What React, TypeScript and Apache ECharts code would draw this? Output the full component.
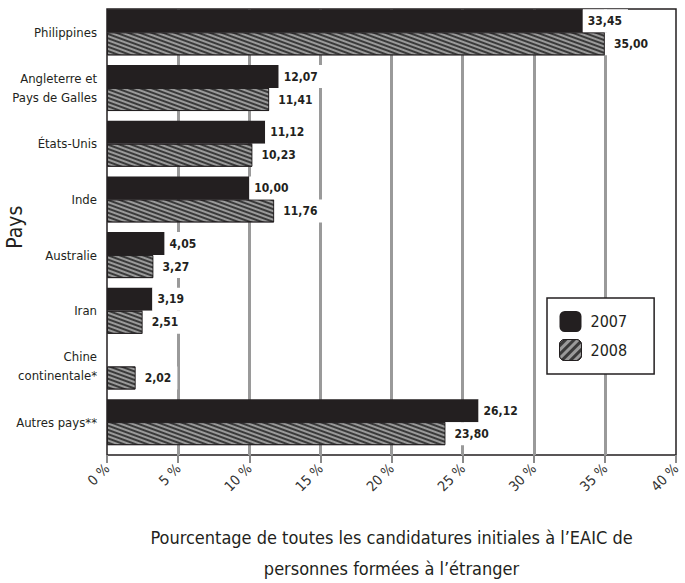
import React, { useEffect, useRef } from "react";
import * as echarts from "echarts";

const categories = [
  "Philippines",
  "Angleterre et\nPays de Galles",
  "États-Unis",
  "Inde",
  "Australie",
  "Iran",
  "Chine\ncontinentale*",
  "Autres pays**",
];
const values2007: (number | null)[] = [33.45, 12.07, 11.12, 10.0, 4.05, 3.19, null, 26.12];
const values2008: number[] = [35.0, 11.41, 10.23, 11.76, 3.27, 2.51, 2.02, 23.8];
const seriesNames = ["2007", "2008"];
const xTicks = [0, 5, 10, 15, 20, 25, 30, 35, 40];

const FONT = "'Liberation Sans Narrow', 'DejaVu Sans Condensed', 'Roboto', sans-serif";
const INK = "#231f20";

const fmt = (v: number) => v.toFixed(2).replace(".", ",");

export default function App() {
  const ref = useRef<HTMLDivElement>(null);
  useEffect(() => {
    if (!ref.current) return;
    const chart = echarts.init(ref.current, null, { renderer: "svg" });
    const stripeDecal = {
      symbol: "rect",
      symbolSize: 1,
      color: "#9a9a9a",
      dashArrayX: [1, 0],
      dashArrayY: [1.5, 2],
      rotation: Math.PI / 9,
    };
    const legendDecal = {
      symbol: "rect",
      symbolSize: 1,
      color: "#9a9a9a",
      dashArrayX: [1, 0],
      dashArrayY: [3, 3],
      rotation: -Math.PI / 4,
    };
    const labelCommon = {
      show: true,
      position: "right",
      fontFamily: FONT,
      fontWeight: "bold",
      fontSize: 12,
      color: INK,
      backgroundColor: "#ffffff",
      lineHeight: 15,
      formatter: (p: any) => fmt(p.value),
    };
    chart.setOption({
      animation: false,
      textStyle: { fontFamily: FONT },
      grid: [
        {
          left: 107, right: 9, top: 9, bottom: 128,
          show: true, borderColor: INK, borderWidth: 1.5,
          containLabel: false, outerBoundsMode: "none",
        },
        { left: 107, right: 9, top: 4.5, bottom: 133, containLabel: false, outerBoundsMode: "none" },
      ],
      legend: {
        orient: "vertical",
        left: 547,
        top: 298,
        padding: [13, 27, 13, 12],
        itemWidth: 22,
        itemHeight: 21,
        itemGap: 7,
        borderColor: INK,
        borderWidth: 1.5,
        backgroundColor: "#fff",
        textStyle: { fontFamily: FONT, fontSize: 16, color: INK, padding: [0, 0, 0, 4] },
        data: [
          { name: seriesNames[0], itemStyle: { color: INK } },
          {
            name: seriesNames[1],
            itemStyle: { color: "#3a3a3a", borderColor: INK, borderWidth: 1, decal: legendDecal },
          },
        ],
      },
      xAxis: [
        {
          type: "value",
          gridIndex: 0,
          min: xTicks[0],
          max: xTicks[xTicks.length - 1],
          interval: 5,
          offset: 5,
          axisLine: { show: false },
          axisTick: { show: true, length: 8, lineStyle: { color: "#8a8a8a", width: 2 } },
          axisLabel: {
            rotate: 45,
            margin: 6,
            fontFamily: FONT,
            fontSize: 14,
            color: "#333",
            formatter: "{value} %",
          },
          splitLine: {
            show: true,
            showMinLine: false,
            showMaxLine: false,
            lineStyle: { color: "#9a9a9a", width: 3 },
          },
          name: "Pourcentage de toutes les candidatures initiales à l’EAIC de\npersonnes formées à l’étranger",
          nameLocation: "middle",
          nameMoveOverlap: false,
          nameGap: 62,
          nameTextStyle: { fontFamily: FONT, fontSize: 18, color: INK, lineHeight: 31 },
        },
        {
          type: "value",
          gridIndex: 1,
          min: xTicks[0],
          max: xTicks[xTicks.length - 1],
          show: false,
          splitLine: { show: false },
        },
      ],
      yAxis: [
        { type: "value", gridIndex: 0, show: false, splitLine: { show: false } },
        {
          type: "category",
          gridIndex: 1,
          data: categories,
          inverse: true,
          axisLine: { show: false },
          axisTick: { show: false },
          axisLabel: { fontFamily: FONT, fontSize: 13, color: INK, margin: 10, lineHeight: 19 },
          name: "Pays",
          nameLocation: "middle",
          nameRotate: 90,
          nameMoveOverlap: false,
          nameGap: 82,
          nameTextStyle: { fontFamily: FONT, fontSize: 21, color: INK },
        },
      ],
      series: [
        {
          name: seriesNames[0],
          type: "bar",
          xAxisIndex: 1,
          yAxisIndex: 1,
          data: values2007,
          barWidth: 23,
          barGap: "0%",
          itemStyle: { color: INK },
          label: { ...labelCommon, distance: 0, padding: [4, 6, 4, 5] },
        },
        {
          name: seriesNames[1],
          type: "bar",
          xAxisIndex: 1,
          yAxisIndex: 1,
          data: values2008,
          barWidth: 23,
          barGap: "0%",
          itemStyle: { color: "#3a3a3a", borderColor: INK, borderWidth: 1, decal: stripeDecal },
          label: { ...labelCommon, distance: 0, padding: [4, 6, 4, 9] },
        },
      ],
    });
    return () => chart.dispose();
  }, []);
  return (
    <div
      ref={ref}
      style={{ position: "fixed", left: 0, top: 0, width: 685, height: 583, background: "#fff" }}
    />
  );
}
